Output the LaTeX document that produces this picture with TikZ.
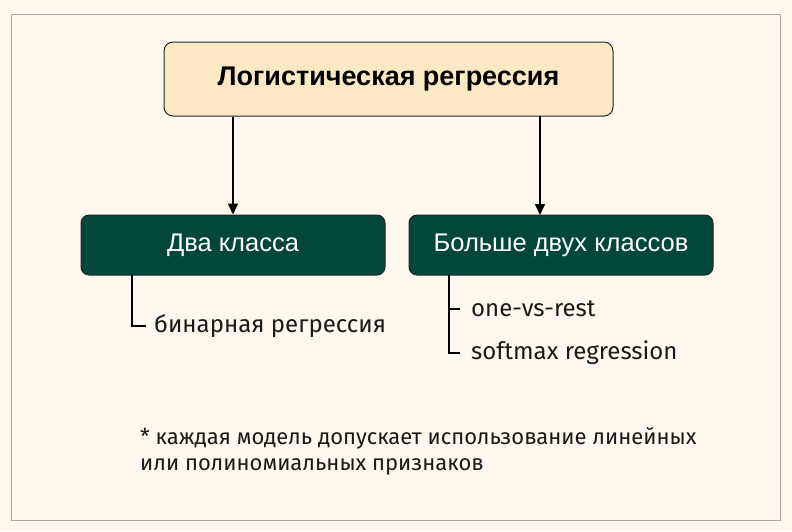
\documentclass[tikz,border=0pt]{standalone}
\usepackage{fontspec}
\setmainfont{Liberation Sans}
\newfontfamily\listfont{Fira Sans}
\usetikzlibrary{arrows.meta}
\definecolor{bgcol}{HTML}{FFF8EF}
\definecolor{framecol}{HTML}{A8A8A8}
\definecolor{topfill}{HTML}{FDE8C6}
\definecolor{darkgreen}{HTML}{03463A}
\definecolor{txtcol}{HTML}{1A1A1A}
\tikzset{
  topbox/.style={draw=black!85, line width=1pt, rounded corners=9pt, fill=topfill, minimum width=449pt, minimum height=74pt, font=\fontsize{27}{32}\selectfont\bfseries, text=black},
  greenbox/.style={draw=black!85, line width=1pt, rounded corners=8pt, fill=darkgreen, minimum width=304pt, minimum height=60pt, font=\fontsize{25.5}{30}\selectfont, text=white},
  conn/.style={line width=1.6pt, -{Triangle[length=11pt,width=10pt]}},
  branch/.style={line width=1.6pt},
  item/.style={anchor=west, inner sep=0pt, font=\listfont\fontsize{24}{28}\selectfont, text=txtcol},
}
\begin{document}
\begin{tikzpicture}[x=1pt,y=-1pt]
\fill[bgcol] (0,0) rectangle (792,531);
\useasboundingbox (0,0) rectangle (792,531);
\draw[framecol, line width=1pt] (11,14) rectangle (780,520);
\node[topbox] (top) at (388.5,79) {Логистическая регрессия};
\node[greenbox] (two) at (233,245) {Два класса};
\node[greenbox] (multi) at (561,245) {Больше двух классов};
\draw[conn] (top.south -| two.north) -- (two.north);
\coordinate (mtop) at (540,116);
\coordinate (mbot) at (540,215);
\draw[conn] (mtop) -- (mbot);
% left list
\node[item] (bin) at (154,326) {бинарная регрессия};
\coordinate (l0) at (132,275);
\draw[branch] (l0) |- ([xshift=-8pt]bin.west);
% right list
\node[item] (ovr) at (471,309) {one-vs-rest};
\node[item] (soft) at (471,353) {softmax regression};
\coordinate (r0) at (449,275);
\draw[branch] (r0) |- ([xshift=-11pt]soft.west);
\draw[branch] (r0 |- ovr.west) -- ([xshift=-11pt]ovr.west);
% footnote
\node[anchor=north west, inner sep=0pt, align=left, font=\listfont\fontsize{22}{26}\selectfont, text=txtcol] (note) at (140,427) {* каждая модель допускает использование линейных\\или полиномиальных признаков};
\end{tikzpicture}
\end{document}
